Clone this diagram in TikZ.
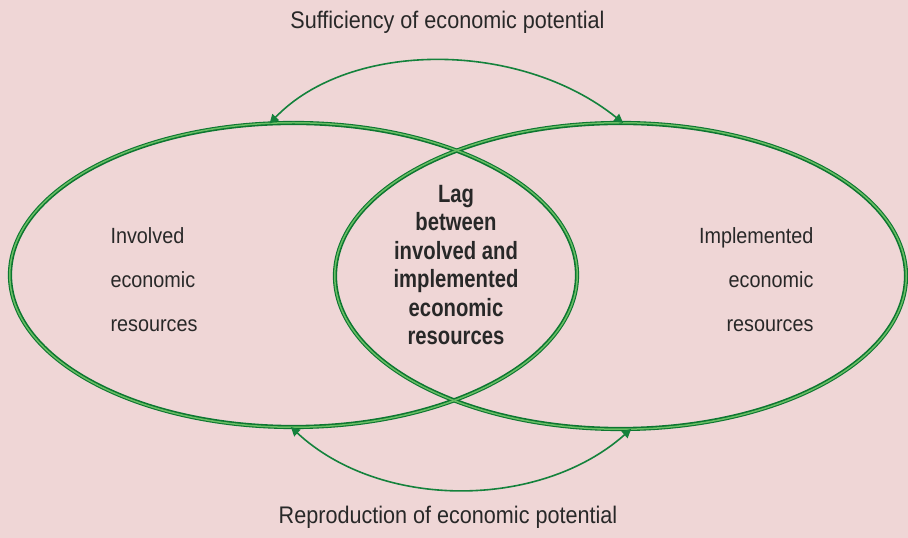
\documentclass[tikz,border=0pt]{standalone}
\usepackage{fontspec}
\setmainfont{Liberation Sans}
\newfontfamily\labf{Liberation Sans}[FakeStretch=0.9]
\newfontfamily\boldf{Liberation Sans}[FakeStretch=0.81]
\usetikzlibrary{shapes.geometric,arrows.meta}
\definecolor{bgpink}{RGB}{239,214,214}
\definecolor{gdark}{RGB}{12,118,48}
\definecolor{glight}{RGB}{105,190,100}
\definecolor{garrow}{RGB}{20,130,60}
\definecolor{txt}{RGB}{40,40,40}
\tikzset{
  ring/.style={ellipse, draw=gdark, line width=4.2pt, inner sep=0pt, outer sep=0pt},
  ringinner/.style={ellipse, draw=glight, line width=1.5pt, inner sep=0pt, outer sep=0pt},
  link/.style={draw=garrow, line width=1.6pt, {Triangle[length=9pt,width=9pt]}-{Triangle[length=9pt,width=9pt]}},
  plain/.style={text=txt, font=\labf\fontsize{22}{44}\selectfont},
  title/.style={text=txt, font=\labf\fontsize{24}{28}\selectfont},
  core/.style={text=txt, align=center, font=\boldf\bfseries\fontsize{25}{28.5}\selectfont}
}
\begin{document}
\begin{tikzpicture}[x=1pt,y=1pt]
\fill[bgpink] (0,0) rectangle (908,538);
\useasboundingbox (0,0) rectangle (908,538);
\node[ring, minimum width=567pt, minimum height=304pt] (L) at (293.5,263) {};
\node[ring, minimum width=571pt, minimum height=306pt] (R) at (620.5,262) {};
\node[ringinner, minimum width=567.5pt, minimum height=304.5pt] (Li) at (293.5,263) {};
\node[ringinner, minimum width=571.5pt, minimum height=306.5pt] (Ri) at (620.5,262) {};
\draw[link] (L.99) .. controls (350,498) and (520,498) .. (R.89);
\draw[link] (L.269) .. controls (380,28) and (540,28) .. (R.274);
\node[title] (top) at (447.5,516) {Sufficiency of economic potential};
\node[title] (bot) at (448,21) {Reproduction of economic potential};
\node[plain, anchor=west, align=left] (lt) at (107,258) {Involved\\economic\\resources};
\node[plain, anchor=east, align=right] (rt) at (817,258) {Implemented\\economic\\resources};
\node[core] (mid) at (456,273) {Lag\\between\\involved and\\implemented\\economic\\resources};
\end{tikzpicture}
\end{document}
